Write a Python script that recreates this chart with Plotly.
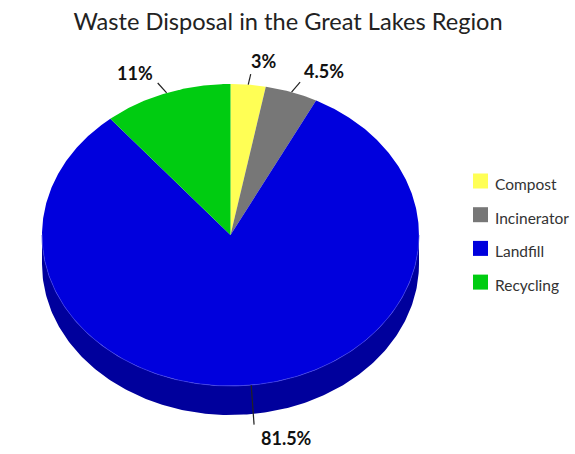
import numpy as np
import plotly.graph_objects as go

categories = ["Compost", "Incinerator", "Landfill", "Recycling"]
shares = [3, 4.5, 81.5, 11]
value_labels = ["3%", "4.5%", "81.5%", "11%"]

COLORS = ["#FFFF55", "#777777", "#0000DD", "#00CC11"]
SIDE = "#00009C"
W, H = 575, 454
CX, CY, RX, RY, DEPTH = 230.5, 235, 188.5, 151, 29
FONT = "Lato, 'Noto Sans', sans-serif"
LABEL_SHIFT = [(13, -13), (24, -11), (32, 13), (-23, -10)]
KEY_X, KEY_Y, KEY_STEP, KEY_TEXT_X, KEY_TEXT_DY = 480.5, 181, 33.7, 493, 3


def pt(theta, k=1.0):
    return CX + k * RX * np.sin(theta), CY - k * RY * np.cos(theta)


fig = go.Figure()

# Rim of the disc: the front half of the ellipse, pushed down by the depth.
th = np.linspace(np.pi / 2, 3 * np.pi / 2, 200)
x, y = pt(th)
fig.add_trace(go.Scatter(
    x=np.r_[x, x[::-1]], y=np.r_[y, y[::-1] + DEPTH], mode="lines", fill="toself",
    fillcolor=SIDE, line=dict(width=0), hoverinfo="skip", showlegend=False))

total = sum(shares)
edges = np.r_[0, np.cumsum(shares)] / total * 2 * np.pi
for i, cat in enumerate(categories):
    th = np.linspace(edges[i], edges[i + 1], max(8, int(shares[i] * 8)))
    x, y = pt(th)
    fig.add_trace(go.Scatter(
        x=np.r_[CX, x, CX], y=np.r_[CY, y, CY], mode="lines", fill="toself",
        fillcolor=COLORS[i], line=dict(width=0), name=cat, hoverinfo="name",
        showlegend=False))

# Faint highlight where the top face meets the rim.
th = np.linspace(np.pi / 2, 3 * np.pi / 2, 200)
x, y = pt(th)
fig.add_trace(go.Scatter(x=x, y=y, mode="lines", line=dict(color="#4040E8", width=0.7),
                         hoverinfo="skip", showlegend=False))

shapes, annos = [], []
for i, lab in enumerate(value_labels):
    mid = (edges[i] + edges[i + 1]) / 2
    x0, y0 = pt(mid)
    x1 = x0 + 0.14 * RX * np.sin(mid)
    y1 = y0 - 0.07 * RY * np.cos(mid)
    if np.cos(mid) < 0:
        y1 += DEPTH
    shapes.append(dict(type="line", x0=x0, y0=y0, x1=x1, y1=y1, xref="x", yref="y",
                       line=dict(color="#222222", width=1.2)))
    dx, dy = LABEL_SHIFT[i]
    annos.append(dict(x=x1 + dx, y=y1 + dy, text=f"<b>{lab}</b>", showarrow=False,
                      xref="x", yref="y", xanchor="center", yanchor="middle",
                      font=dict(family=FONT, size=18, color="#111111")))

# Colour key
for i, cat in enumerate(categories):
    ky = KEY_Y + i * KEY_STEP
    fig.add_trace(go.Scatter(
        x=[KEY_X], y=[ky], mode="markers", name=cat, hoverinfo="name", showlegend=False,
        marker=dict(symbol="square", size=15, color=COLORS[i], line=dict(width=0))))
    annos.append(dict(x=KEY_TEXT_X, y=ky + KEY_TEXT_DY, text=cat, showarrow=False,
                      xref="x", yref="y", xanchor="left", yanchor="middle",
                      font=dict(family=FONT, size=15.5, color="#333333")))

fig.update_layout(
    width=W, height=H, autosize=False,
    margin=dict(l=0, r=0, t=0, b=0),
    paper_bgcolor="white", plot_bgcolor="white",
    title=dict(text="Waste Disposal in the Great Lakes Region", x=0.501, xanchor="center",
               y=0.952, yanchor="middle", font=dict(family=FONT, size=23.6, color="#222222")),
    xaxis=dict(range=[0, W], visible=False, fixedrange=True),
    yaxis=dict(range=[H, 0], visible=False, fixedrange=True),
    showlegend=False,
    shapes=shapes, annotations=annos,
)
fig.write_html("out.html", config={"displayModeBar": False},
               post_script="document.body.style.margin='0';")
